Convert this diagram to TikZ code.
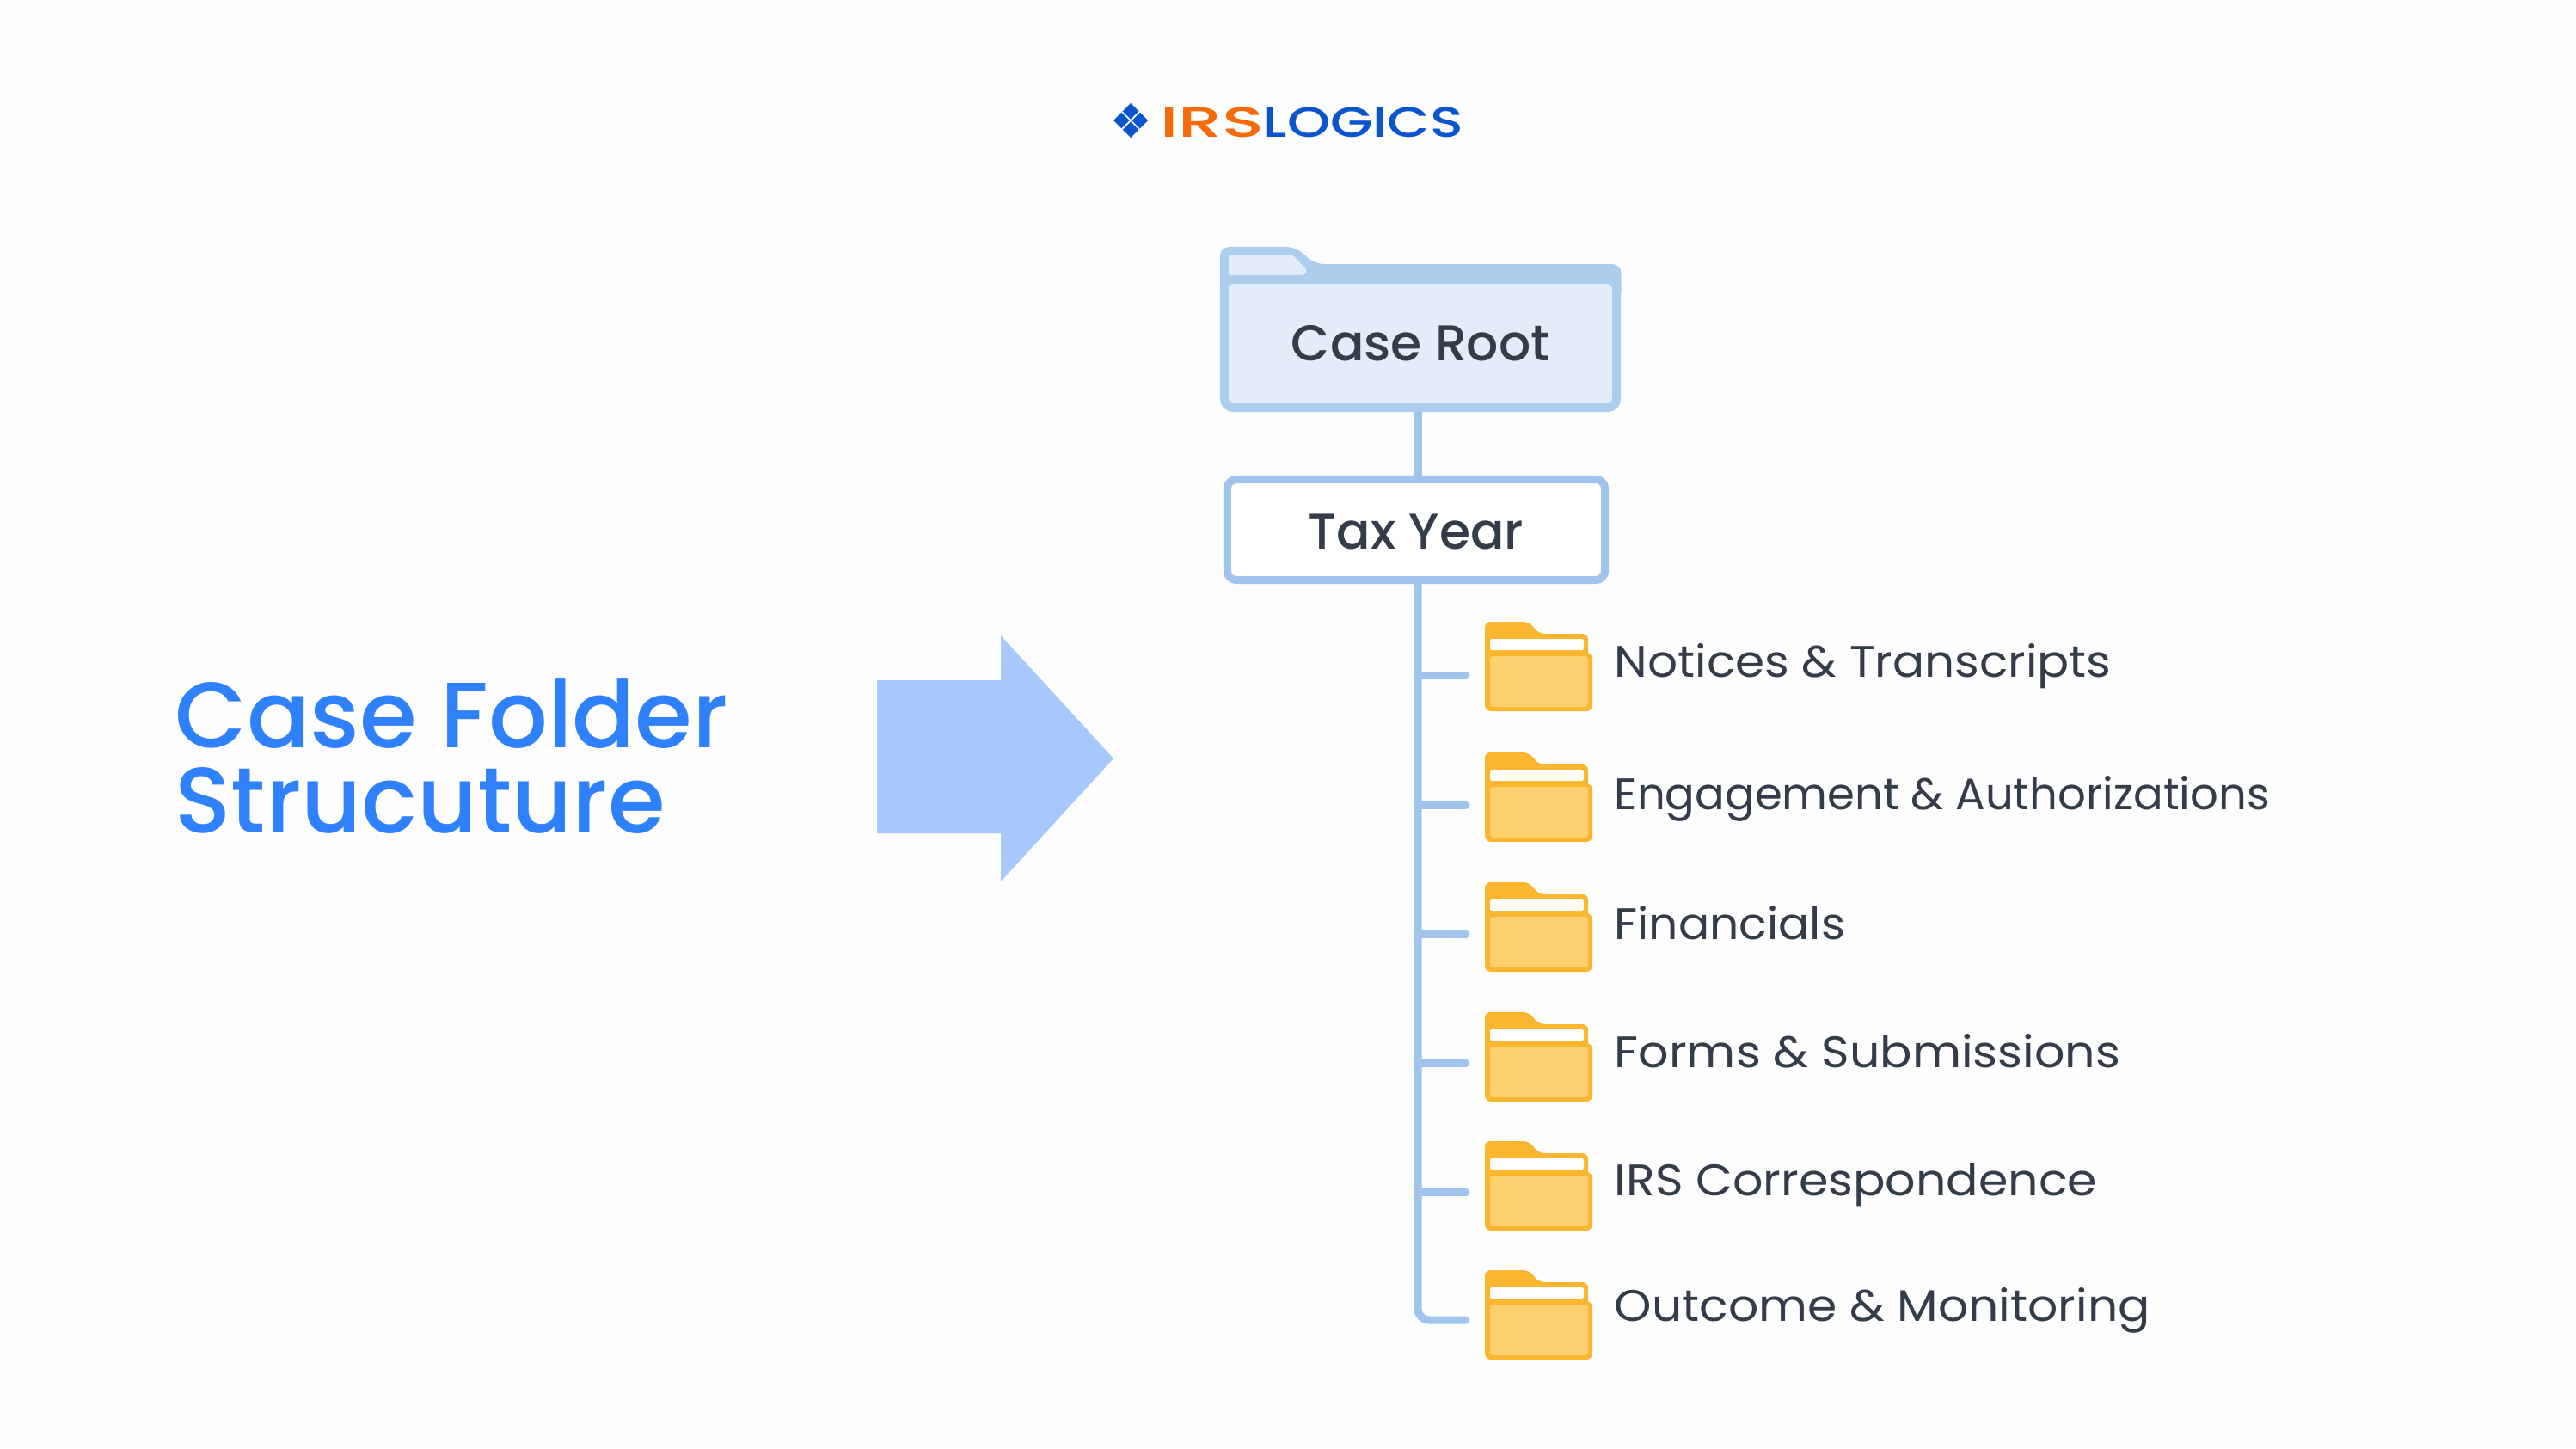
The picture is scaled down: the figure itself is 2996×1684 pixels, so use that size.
\documentclass[tikz,border=0pt]{standalone}
\usepackage{fontspec}
\setmainfont{Poppins}
\newfontfamily\titlefont{Poppins Medium}
\usetikzlibrary{positioning}
\definecolor{pagebg}{HTML}{FDFDFE}
\definecolor{titleblue}{HTML}{2F80FB}
\definecolor{arrowblue}{HTML}{A6C8FC}
\definecolor{lineblue}{HTML}{A0C4EC}
\definecolor{rootline}{HTML}{ADCDEE}
\definecolor{rootfill}{HTML}{E3EDF9}
\definecolor{inkgrey}{HTML}{343C4A}
\definecolor{folderedge}{HTML}{F9B62E}
\definecolor{folderfill}{HTML}{FDD06F}
\definecolor{logoblue}{HTML}{0A55CC}
\definecolor{logoorange}{HTML}{F56A0A}
\tikzset{
  treeline/.style={draw=lineblue, line width=9*0.2845pt},
  rowlabel/.style={text=inkgrey, font=\fontsize{14.6}{18}\selectfont, anchor=base west, inner sep=0pt},
  logotext/.style={font=\titlefont\fontsize{14}{18}\selectfont, inner sep=0pt, anchor=base west},
  pics/folder/.style={code={
    \fill[folderedge, rounded corners=1.8pt] (0,0) -- (51,0) -- (63,14) -- (120,14) -- (120,50) -- (0,50) -- cycle;
    \fill[folderedge, rounded corners=2pt] (0,36) rectangle (125,104);
    \fill[white, rounded corners=0.7pt] (6,20) rectangle (115,33);
    \fill[folderfill, rounded corners=1pt] (6,40) rectangle (120,99);
  }}
}
\begin{document}
\begin{tikzpicture}[x=0.01cm, y=-0.01cm]
  \fill[pagebg] (0,0) rectangle (2996,1684);
  \useasboundingbox (0,0) rectangle (2996,1684);

  % Logo
  \fill[logoblue] (1315,120) -- (1335,140) -- (1315,160) -- (1295,140) -- cycle;
  \draw[white, line width=0.5pt] (1305,130) -- (1325,150) (1325,130) -- (1305,150);
  \node[logotext, text=logoorange, xscale=1.64] (irs) at (1348,159) {IRS};
  \node[logotext, text=logoblue, xscale=1.3] (logics) at (1468,159) {LOGICS};

  % Title and arrow
  \node[anchor=base west, align=left, text=titleblue, inner sep=0pt, font=\titlefont\fontsize{30.7}{27.9}\selectfont] (title) at (203,968) {Case Folder\\Strucuture};
  \fill[arrowblue] (1020,791) -- (1164,791) -- (1164,739) -- (1295,882) -- (1164,1025) -- (1164,969) -- (1020,969) -- cycle;

  % Root folder
  \fill[rootline, rounded corners=3pt] (1419,350) -- (1419,287) -- (1507,287) -- (1529,307) -- (1885.5,307) -- (1885.5,350) -- cycle;
  \fill[rootfill, rounded corners=1pt] (1429,296) -- (1503,296) -- (1521,315) -- (1515,321) -- (1429,321) -- cycle;
  \node[draw=rootline, fill=rootfill, line width=10*0.2845pt, rounded corners=3pt, minimum width=456*0.2845pt, minimum height=149*0.2845pt, inner sep=0pt, text=inkgrey, font=\titlefont\fontsize{16.6}{20}\selectfont] (root) at (1652,399.5) {Case Root};

  % Tax year box
  \node[draw=lineblue, fill=white, line width=9*0.2845pt, rounded corners=3pt, minimum width=439*0.2845pt, minimum height=117*0.2845pt, inner sep=0pt, text=inkgrey, text height=12.8pt, text depth=0pt, font=\titlefont\fontsize{16.6}{20}\selectfont] (tax) at (1647,616) {Tax Year};
  \coordinate (trunk) at (1649,0);
  \draw[treeline] (trunk |- root.south) -- (trunk |- tax.north);

  % Folder rows
  \foreach \i/\ftop/\by/\ly/\sx/\txt in {1/723/785/787/1.07/{Notices \& Transcripts},
      2/875/936/941/1.0/{Engagement \& Authorizations},
      3/1026/1086/1092/1.045/{Financials},
      4/1177/1236/1241/1.08/{Forms \& Submissions},
      5/1327/1386/1390/1.08/{IRS Correspondence},
      6/1477/1535/1536/1.075/{Outcome \& Monitoring}} {
    \pic at (1727,\ftop) {folder};
    \coordinate (b\i) at (1705,\by);
    \node[rowlabel, xscale=\sx] (row\i) at (1877,\ly) {\txt};
  }
  \foreach \i in {1,...,5} {
    \draw[treeline, line cap=round] (trunk |- b\i) -- (b\i);
  }
  \draw[treeline, line cap=round, rounded corners=3.7pt] (trunk |- tax.south) -- (trunk |- b6) -- (b6);
\end{tikzpicture}
\end{document}
